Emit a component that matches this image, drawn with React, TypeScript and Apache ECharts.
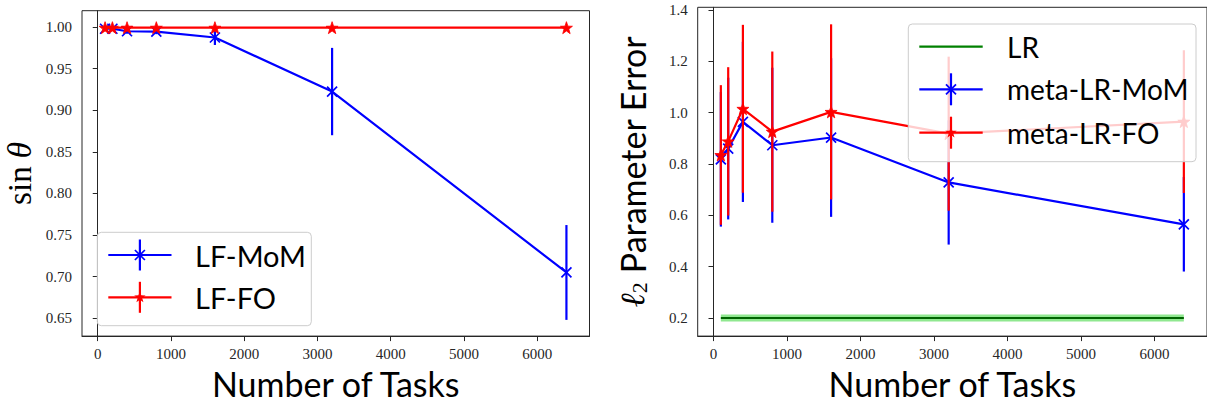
import React, { useEffect, useRef } from 'react';
import * as echarts from 'echarts';

// ---------- data ----------
const tasks = [100, 200, 400, 800, 1600, 3200, 6400];
const xTicks = [0, 1000, 2000, 3000, 4000, 5000, 6000];

// left panel: sin(theta)
const lfMomMean = [0.998, 0.998, 0.995, 0.9945, 0.9875, 0.9225, 0.705];
const lfMomStd = [0.002, 0.002, 0.003, 0.003, 0.009, 0.0525, 0.057];
const lfFoMean = [0.9993, 0.9993, 0.9993, 0.9993, 0.9993, 0.9993, 0.9993];
const lfFoStd = [0.001, 0.001, 0.001, 0.001, 0.001, 0.001, 0.001];
const leftYTicks = [0.65, 0.7, 0.75, 0.8, 0.85, 0.9, 0.95, 1.0];

// right panel: l2 parameter error
const lrMean = [0.2, 0.2, 0.2, 0.2, 0.2, 0.2, 0.2];
const lrStd = [0.0135, 0.0135, 0.0135, 0.0135, 0.0135, 0.0135, 0.0135];
const momMean = [0.818, 0.86, 0.964, 0.873, 0.903, 0.728, 0.565];
const momStd = [0.262, 0.276, 0.312, 0.302, 0.309, 0.242, 0.184];
const foMean = [0.835, 0.888, 1.015, 0.926, 1.003, 0.918, 0.965];
const foStd = [0.272, 0.289, 0.327, 0.312, 0.341, 0.3, 0.278];
const rightYTicks = [0.2, 0.4, 0.6, 0.8, 1.0, 1.2, 1.4];

// ---------- styling helpers ----------
const BLUE = '#0000ff';
const RED = '#ff0000';
const AXIS = '#262626';
const SERIF = 'Liberation Serif';
const SANS = 'Lato';

const starPts = (cx: number, cy: number, R: number, ratio = 0.4) => {
  const pts: number[][] = [];
  for (let k = 0; k < 10; k++) {
    const r = k % 2 === 0 ? R : R * ratio;
    const a = -Math.PI / 2 + (k * Math.PI) / 5;
    pts.push([cx + r * Math.cos(a), cy + r * Math.sin(a)]);
  }
  return pts;
};
const STAR_SYMBOL =
  'path://M' + starPts(0, 0, 10).map((p) => `${p[0].toFixed(3)} ${p[1].toFixed(3)}`).join('L') + 'Z';
const X_SYMBOL = 'path://M0 0L10 10M10 0L0 10';

function errorBars(name: string, xi: number, means: number[], stds: number[], color: string, z: number) {
  return {
    type: 'custom',
    name,
    xAxisIndex: xi,
    yAxisIndex: xi,
    z,
    silent: true,
    data: tasks.map((t, i) => [t, means[i] - stds[i], means[i] + stds[i]]),
    encode: { x: 0, y: [1, 2] },
    renderItem: (_p: any, api: any) => {
      const lo = api.coord([api.value(0), api.value(1)]);
      const hi = api.coord([api.value(0), api.value(2)]);
      return {
        type: 'line',
        shape: { x1: lo[0], y1: lo[1], x2: hi[0], y2: hi[1] },
        style: { stroke: color, lineWidth: 2.2 },
      };
    },
  };
}

function lineSeries(name: string, xi: number, means: number[], color: string, symbol: string, size: number, z: number, filled: boolean) {
  return {
    type: 'line',
    name,
    xAxisIndex: xi,
    yAxisIndex: xi,
    z,
    data: tasks.map((t, i) => [t, means[i]]),
    symbol,
    symbolSize: size,
    showSymbol: true,
    lineStyle: { color, width: 2.2 },
    itemStyle: filled ? { color, borderColor: color, borderWidth: 0.8 } : { color, borderColor: color, borderWidth: 1.7 },
  };
}

function xAxis(gi: number) {
  return {
    type: 'value',
    gridIndex: gi,
    min: -215,
    max: 6715,
    name: 'Number of Tasks',
    nameLocation: 'middle',
    nameGap: 26,
    nameTextStyle: { fontFamily: SANS, fontSize: 34, color: '#000' },
    axisLine: { show: true, lineStyle: { color: AXIS, width: 1 } },
    axisTick: { show: true, length: 5, lineStyle: { color: AXIS, width: 1 }, customValues: xTicks },
    axisLabel: { fontFamily: SERIF, fontSize: 15, color: '#262626', margin: 10, customValues: xTicks, formatter: (v: number) => String(v) },
    splitLine: { show: false },
  };
}

function legendGraphics(
  box: { x: number; y: number; w: number; h: number },
  rows: { y: number; label: string; color: string; marker: 'none' | 'x' | 'star' }[],
  lineX1: number,
  lineX2: number,
  textX: number,
  barHalf: number,
  fontSize: number
) {
  const els: any[] = [
    {
      type: 'rect',
      z: 100,
      shape: { x: box.x, y: box.y, width: box.w, height: box.h, r: 4 },
      style: { fill: 'rgba(255,255,255,0.8)', stroke: '#cccccc', lineWidth: 1 },
    },
  ];
  const mx = (lineX1 + lineX2) / 2;
  rows.forEach((r) => {
    els.push({ type: 'line', z: 101, shape: { x1: lineX1, y1: r.y, x2: lineX2, y2: r.y }, style: { stroke: r.color, lineWidth: 2.2 } });
    if (r.marker !== 'none') {
      els.push({ type: 'line', z: 101, shape: { x1: mx, y1: r.y - barHalf, x2: mx, y2: r.y + barHalf }, style: { stroke: r.color, lineWidth: 2.2 } });
    }
    if (r.marker === 'x') {
      els.push({ type: 'line', z: 102, shape: { x1: mx - 5, y1: r.y - 5, x2: mx + 5, y2: r.y + 5 }, style: { stroke: r.color, lineWidth: 1.7 } });
      els.push({ type: 'line', z: 102, shape: { x1: mx - 5, y1: r.y + 5, x2: mx + 5, y2: r.y - 5 }, style: { stroke: r.color, lineWidth: 1.7 } });
    }
    if (r.marker === 'star') {
      els.push({ type: 'polygon', z: 102, shape: { points: starPts(mx, r.y, 6) }, style: { fill: r.color } });
    }
    els.push({
      type: 'text',
      z: 102,
      style: { text: r.label, x: textX, y: r.y, fontFamily: SANS, fontSize, fill: '#000', verticalAlign: 'middle', align: 'left' },
    });
  });
  return els;
}

export default function App() {
  const ref = useRef<HTMLDivElement>(null);
  useEffect(() => {
    document.body.style.margin = '0';
    const chart = echarts.init(ref.current!, null, { renderer: 'svg' });
    const option: any = {
      animation: false,
      backgroundColor: '#ffffff',
      grid: [
        { left: 82, top: 10.7, width: 507.5, height: 330.3, show: true, borderColor: AXIS, borderWidth: 1, backgroundColor: 'transparent' },
        { left: 697.7, top: 7.3, width: 514.6, height: 334.4, show: true, borderColor: AXIS, borderWidth: 1, backgroundColor: 'transparent' },
      ],
      xAxis: [xAxis(0), xAxis(1)],
      yAxis: [
        {
          type: 'value',
          gridIndex: 0,
          min: 0.6285,
          max: 1.0197,
          name: '{r|sin}{i| θ}',
          nameLocation: 'middle',
          nameRotate: 90,
          nameGap: 46,
          nameTextStyle: {
            rich: {
              r: { fontFamily: SERIF, fontSize: 33, color: '#000' },
              i: { fontFamily: SERIF, fontSize: 33, fontStyle: 'italic', color: '#000' },
            },
          },
          axisLine: { show: true, lineStyle: { color: AXIS, width: 1 } },
          axisTick: { show: true, length: 5, lineStyle: { color: AXIS, width: 1 }, customValues: leftYTicks },
          axisLabel: { fontFamily: SERIF, fontSize: 15, color: '#262626', margin: 10, customValues: leftYTicks, formatter: (v: number) => v.toFixed(2) },
          splitLine: { show: false },
        },
        {
          type: 'value',
          gridIndex: 1,
          min: 0.1295,
          max: 1.4103,
          name: '{l|ℓ}{s|2}{t| Parameter Error}',
          nameLocation: 'middle',
          nameRotate: 90,
          nameGap: 47,
          nameTextStyle: {
            rich: {
              l: { fontFamily: SERIF, fontSize: 34, fontStyle: 'italic', color: '#000', verticalAlign: 'middle' },
              s: { fontFamily: SERIF, fontSize: 22, color: '#000', verticalAlign: 'bottom', padding: [14, 0, 0, 0] },
              t: { fontFamily: SANS, fontSize: 34, color: '#000', verticalAlign: 'middle' },
            },
          },
          axisLine: { show: true, lineStyle: { color: AXIS, width: 1 } },
          axisTick: { show: true, length: 5, lineStyle: { color: AXIS, width: 1 }, customValues: rightYTicks },
          axisLabel: { fontFamily: SERIF, fontSize: 15, color: '#262626', margin: 10, customValues: rightYTicks, formatter: (v: number) => v.toFixed(1) },
          splitLine: { show: false },
        },
      ],
      series: [
        // left panel
        errorBars('LF-MoM err', 0, lfMomMean, lfMomStd, BLUE, 2),
        lineSeries('LF-MoM', 0, lfMomMean, BLUE, X_SYMBOL, 10, 3, false),
        errorBars('LF-FO err', 0, lfFoMean, lfFoStd, RED, 4),
        lineSeries('LF-FO', 0, lfFoMean, RED, STAR_SYMBOL, 12, 5, true),
        // right panel
        {
          type: 'custom',
          name: 'LR band',
          xAxisIndex: 1,
          yAxisIndex: 1,
          z: 1,
          silent: true,
          data: tasks.map((t, i) => [t, lrMean[i] - lrStd[i], lrMean[i] + lrStd[i]]),
          encode: { x: 0, y: [1, 2] },
          renderItem: (params: any, api: any) => {
            if (params.dataIndex !== 0) return null;
            const upper = tasks.map((t, i) => api.coord([t, lrMean[i] + lrStd[i]]));
            const lower = tasks.map((t, i) => api.coord([t, lrMean[i] - lrStd[i]])).reverse();
            return { type: 'polygon', shape: { points: upper.concat(lower) }, style: { fill: '#90e890' } };
          },
        },
        {
          type: 'line',
          name: 'LR',
          xAxisIndex: 1,
          yAxisIndex: 1,
          z: 2,
          data: tasks.map((t, i) => [t, lrMean[i]]),
          symbol: 'none',
          lineStyle: { color: '#006400', width: 2 },
        },
        errorBars('meta-LR-MoM err', 1, momMean, momStd, BLUE, 2),
        lineSeries('meta-LR-MoM', 1, momMean, BLUE, X_SYMBOL, 10, 3, false),
        errorBars('meta-LR-FO err', 1, foMean, foStd, RED, 4),
        lineSeries('meta-LR-FO', 1, foMean, RED, STAR_SYMBOL, 12, 5, true),
      ],
      graphic: [
        ...legendGraphics(
          { x: 97.3, y: 232.3, w: 214, h: 93.4 },
          [
            { y: 255, label: 'LF-MoM', color: BLUE, marker: 'x' },
            { y: 297.3, label: 'LF-FO', color: RED, marker: 'star' },
          ],
          108.3,
          171.5,
          195,
          15.5,
          29
        ),
        ...legendGraphics(
          { x: 908.3, y: 24, w: 287.7, h: 137.7 },
          [
            { y: 46.7, label: 'LR', color: '#008000', marker: 'none' },
            { y: 89.3, label: 'meta-LR-MoM', color: BLUE, marker: 'x' },
            { y: 132.7, label: 'meta-LR-FO', color: RED, marker: 'star' },
          ],
          919.3,
          982.7,
          1007,
          16,
          28
        ),
      ],
    };
    chart.setOption(option);
    return () => chart.dispose();
  }, []);
  return <div ref={ref} style={{ position: 'absolute', left: 0, top: 0, width: 1207, height: 405 }} />;
}
